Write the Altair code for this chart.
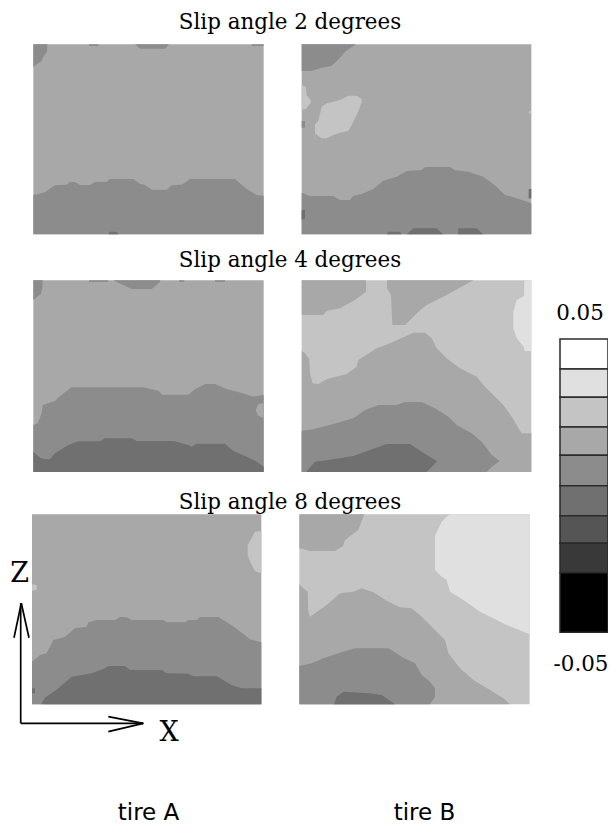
import altair as alt
import pandas as pd

# Grey level of every contour class (0 = highest value, 8 = lowest)
LEVELS = [0, 1, 2, 3, 4, 5, 6, 7, 8]
GRAYS = ["#ffffff", "#e0e0e0", "#c4c4c4", "#a8a8a8", "#8c8c8c", "#707070", "#555555", "#393939", "#000000"]

# Panels: name, reading-frame origin, box (left, right, top, bottom in 1/3 units), base level
PANELS = {
    "A2": ((25, 35), (25, 716, 28, 598), 3),
    "B2": ((290, 35), (35, 724, 28, 598), 3),
    "A4": ((25, 270), (25, 716, 31, 606), 3),
    "B4": ((290, 270), (35, 724, 31, 606), 2),
    "A8": ((25, 505), (21, 709, 28, 598), 3),
    "B8": ((290, 505), (28, 719, 28, 598), 2),
}

# Regions: (level, xs, tops, bottoms)
A2 = [
    (4, [25, 35, 50, 55, 66, 67], [28, 28, 28, 28, 28, 28], [97, 88, 78, 65, 50, 28]),
    (4, [330, 345, 420, 432], [28, 28, 28, 28], [28, 41, 41, 28]),
    (4, [192, 220], [28, 28], [33, 33]),
    (4, [680, 716], [28, 28], [33, 33]),
    (4, [25, 40, 60, 90, 125, 135, 150, 165, 195, 210, 245, 255, 325, 345, 360, 380, 425, 440, 470, 495, 630, 665, 695, 716],
     [480, 477, 472, 451, 449, 441, 441, 450, 450, 441, 440, 432, 432, 447, 449, 464, 464, 451, 449, 432, 432, 462, 480, 482],
     [598] * 24),
    (5, [250, 255, 275, 280], [598, 590, 590, 598], [598] * 4),
]
B2 = [
    (4, [35, 65, 95, 125, 150, 165, 198], [28] * 7, [108, 108, 98, 93, 68, 50, 28]),
    (2, [35, 47, 50, 62], [150, 155, 180, 195], [225, 222, 218, 205]),
    (2, [75, 85, 95, 110, 130, 150, 175, 185, 200, 215],
     [268, 258, 215, 205, 200, 195, 182, 182, 182, 192],
     [295, 303, 310, 310, 300, 293, 288, 270, 240, 203]),
    (4, [35, 45], [258, 258], [278, 278]),
    (2, [716, 724], [232, 226], [234, 236]),
    (4, [35, 60, 130, 150, 180, 190, 215, 250, 280, 320, 350, 395, 405, 480, 495, 535, 580, 620, 645, 680, 724],
     [473, 483, 483, 495, 495, 483, 477, 462, 437, 425, 408, 405, 396, 396, 406, 410, 425, 455, 480, 490, 505],
     [598] * 21),
    (5, [35, 45], [525, 525], [553, 553]),
    (5, [716, 724], [462, 462], [490, 490]),
    (5, [290, 295, 330, 335], [598, 590, 590, 598], [598] * 4),
    (5, [350, 370, 440, 460], [598, 580, 580, 598], [598] * 4),
    (5, [504, 505, 560, 580], [598, 580, 580, 598], [598] * 4),
]
A4 = [
    (4, [25, 35, 48, 52, 53], [31] * 5, [90, 82, 72, 55, 40]),
    (4, [265, 280, 320, 380, 405, 406], [31] * 6, [31, 38, 57, 57, 36, 31]),
    (4, [192, 250], [31, 31], [36, 36]),
    (4, [462, 478], [31, 31], [36, 36]),
    (4, [570, 600], [31, 31], [36, 36]),
    (4, [25, 38, 50, 53, 90, 105, 140, 355, 400, 412, 490, 510, 540, 570, 605, 640, 685, 716],
     [465, 460, 430, 405, 393, 378, 352, 352, 362, 374, 374, 358, 342, 342, 357, 366, 380, 375],
     [606] * 18),
    (3, [692, 700, 716], [420, 402, 400], [420, 437, 445]),
    (5, [25, 45, 60, 75, 90, 130, 160, 225, 240, 320, 335, 445, 490, 500, 515, 600, 625, 665, 695, 716],
     [545, 563, 568, 567, 550, 525, 514, 514, 505, 505, 513, 513, 525, 530, 521, 521, 543, 560, 575, 590],
     [606] * 20),
]
B4 = [
    (3, [35, 100, 110, 150, 195, 228], [31] * 6, [135, 135, 123, 115, 90, 65]),
    (3, [291, 303, 307, 345, 385, 410, 470, 550], [31] * 8, [55, 75, 165, 165, 125, 105, 75, 31]),
    (1, [670, 680, 702, 703, 724], [125, 90, 78, 31, 31], [175, 205, 232, 243, 243]),
    (3, [35, 45, 58, 60, 68, 85, 110, 170, 200, 205, 260, 300, 350, 370, 405, 425, 440, 470, 510, 560, 585, 610, 640, 665, 695, 724],
     [242, 250, 268, 310, 340, 342, 328, 312, 290, 270, 235, 220, 197, 188, 188, 205, 235, 265, 295, 320, 350, 375, 405, 440, 490, 490],
     [606] * 26),
    (4, [35, 70, 130, 190, 225, 265, 320, 345, 395, 435, 475, 500, 545, 575, 590, 605, 628],
     [482, 478, 462, 445, 420, 405, 405, 396, 396, 415, 440, 465, 490, 515, 535, 555, 572],
     [606, 606, 606, 606, 606, 606, 606, 606, 606, 606, 606, 606, 606, 606, 606, 590, 574]),
    (5, [48, 75, 130, 190, 240, 290, 360, 395, 410, 440],
     [606, 575, 568, 558, 540, 522, 522, 545, 555, 572],
     [606, 606, 606, 606, 606, 606, 606, 606, 606, 575]),
]
A8 = [
    (2, [668, 675, 690, 709], [120, 108, 80, 78], [150, 170, 198, 205]),
    (2, [21, 35], [238, 240], [257, 255]),
    (4, [21, 45, 65, 85, 120, 150, 185, 190, 215, 270, 285, 305, 320, 415, 425, 480, 490, 515, 525, 580, 610, 640, 675, 709],
     [470, 450, 445, 405, 395, 370, 365, 352, 345, 345, 336, 337, 345, 345, 352, 352, 345, 345, 336, 336, 355, 375, 403, 412],
     [598] * 24),
    (5, [48, 60, 100, 140, 200, 240, 250, 300, 315, 410, 425, 490, 505, 575, 620, 650, 709],
     [598, 578, 550, 515, 505, 490, 483, 483, 495, 495, 505, 506, 514, 514, 540, 550, 550],
     [598] * 17),
    (5, [21, 30], [550, 550], [565, 565]),
]
B8 = [
    (3, [28, 60, 135, 160, 165, 205, 222], [28] * 7, [130, 138, 138, 122, 105, 75, 30]),
    (1, [435, 455, 470, 480, 520, 570, 650, 719],
     [92, 50, 35, 28, 28, 28, 28, 28],
     [195, 215, 225, 260, 285, 320, 360, 388]),
    (3, [28, 40, 53, 55, 60, 110, 150, 190, 215, 250, 290, 330, 365, 400, 435, 465, 475, 510, 550, 600, 640, 660],
     [238, 250, 260, 320, 335, 300, 265, 260, 250, 262, 287, 307, 310, 340, 375, 405, 445, 490, 525, 555, 580, 598],
     [598] * 22),
    (4, [28, 65, 100, 145, 195, 295, 340, 375, 395, 420, 435],
     [483, 475, 460, 445, 430, 430, 458, 475, 510, 530, 550],
     [598, 598, 598, 598, 598, 598, 598, 598, 598, 598, 575]),
    (5, [132, 140, 160, 240, 275, 315], [598, 575, 560, 565, 570, 598], [598] * 6),
]
REGIONS = {"A2": A2, "B2": B2, "A4": A4, "B4": B4, "A8": A8, "B8": B8}

# Colour bar
BAR_EDGES = [339, 369, 397.3, 427, 455.3, 485.7, 515.7, 543.3, 572.7, 632.3]
BAR_LEFT, BAR_RIGHT = 560, 608

# Texts
TITLES = ["Slip angle 2 degrees", "Slip angle 4 degrees", "Slip angle 8 degrees"]
TITLE_X = [290, 290, 290]
TITLE_Y = [28.5, 267, 508.5]
BAR_LABELS = ["0.05", "-0.05"]
BAR_LABEL_X = [580, 581]
BAR_LABEL_Y = [320, 670.5]
AXIS_LABELS = ["Z", "X"]
AXIS_LABEL_X = [19.5, 169]
AXIS_LABEL_Y = [582, 741]
TIRES = ["tire A", "tire B"]
TIRE_X = [148.5, 424.5]
TIRE_Y = [819.5, 819.5]

# Axis arrows: x1, y1, x2, y2
ARROWS = [
    (20.7, 723.3, 20.7, 603.3), (14, 637.7, 21.3, 603.3), (29, 637.7, 21.3, 603.3),
    (20.7, 723.3, 143.3, 723.3), (108.3, 716.7, 143.3, 723.3), (108.3, 731.7, 143.3, 723.3),
]

base_rows, area_rows = [], []
rid = 0
for name, ((ox, oy), (l, r, t, b), base) in PANELS.items():
    base_rows.append(dict(x=ox + l / 3, x2=ox + r / 3, y=oy + t / 3, y2=oy + b / 3, level=base))
    for level, xs, tops, bottoms in REGIONS[name]:
        rid += 1
        for x, top, bottom in zip(xs, tops, bottoms):
            area_rows.append(dict(rid=rid, level=level, x=ox + x / 3, y=oy + top / 3, y2=oy + bottom / 3))

bar_rows = [dict(x=BAR_LEFT, x2=BAR_RIGHT, y=BAR_EDGES[i], y2=BAR_EDGES[i + 1], level=LEVELS[i]) for i in range(9)]

X = alt.X("x:Q", scale=alt.Scale(domain=[8, 608]), axis=None)
Y = alt.Y("y:Q", scale=alt.Scale(domain=[825, 8]), axis=None)
C = alt.Color("level:N", scale=alt.Scale(domain=LEVELS, range=GRAYS), legend=None)

bases = alt.Chart(pd.DataFrame(base_rows)).mark_rect().encode(x=X, x2="x2:Q", y=Y, y2="y2:Q", color=C)
areas = alt.Chart(pd.DataFrame(area_rows)).mark_area(interpolate="linear").encode(
    x=X, y=Y, y2="y2:Q", color=C, detail="rid:N")
bar = alt.Chart(pd.DataFrame(bar_rows)).mark_rect(stroke="#2a2a2a", strokeWidth=1.5).encode(
    x=X, x2="x2:Q", y=Y, y2="y2:Q", color=C)
arrows = alt.Chart(pd.DataFrame(ARROWS, columns=["x", "y", "x2", "y2"])).mark_rule(
    color="black", strokeWidth=1.7).encode(x=X, x2="x2:Q", y=Y, y2="y2:Q")


def text_layer(labels, xs, ys, font, size):
    df = pd.DataFrame(dict(t=labels, x=xs, y=ys))
    return alt.Chart(df).mark_text(font=font, fontSize=size, color="black", align="center",
                                   baseline="alphabetic").encode(x=X, y=Y, text="t:N")


chart = alt.layer(
    bases, areas, bar, arrows,
    text_layer(TITLES, TITLE_X, TITLE_Y, "DejaVu Serif", 21.4),
    text_layer(BAR_LABELS, BAR_LABEL_X, BAR_LABEL_Y, "DejaVu Serif", 21.4),
    text_layer(AXIS_LABELS, AXIS_LABEL_X, AXIS_LABEL_Y, "DejaVu Serif", 27),
    text_layer(TIRES, TIRE_X, TIRE_Y, "DejaVu Sans", 23),
).properties(width=600, height=817, padding=0, autosize=alt.AutoSizeParams(type="none")).configure_view(stroke=None)

chart.save("out.html", embed_options={"renderer": "svg", "actions": False})
